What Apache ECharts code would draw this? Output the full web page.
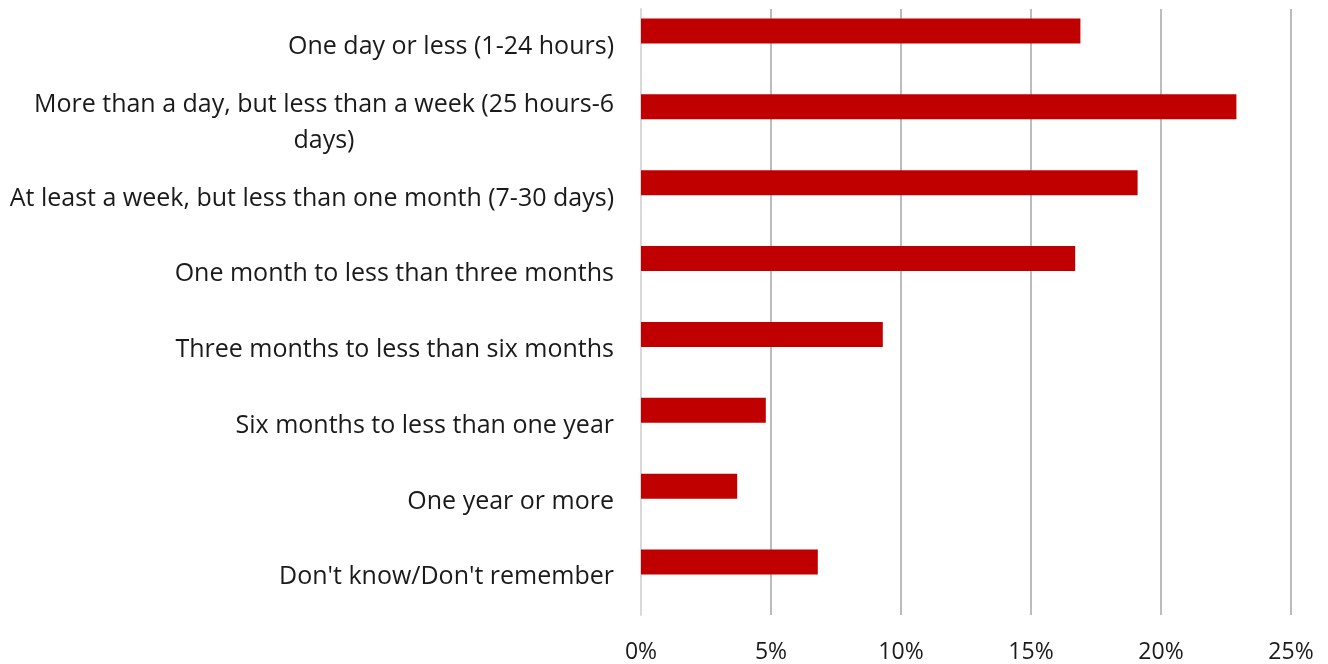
<!DOCTYPE html>
<html><head><meta charset="utf-8">
<script src="https://cdn.jsdelivr.net/npm/echarts@6/dist/echarts.min.js"></script>
<style>html,body{margin:0;padding:0;background:#fff}#c{width:1328px;height:664px}</style>
</head><body><div id="c"></div>
<script>
const categories = [
  "One day or less (1-24 hours)",
  "More than a day, but less than a week (25 hours-6\ndays)",
  "At least a week, but less than one month (7-30 days)",
  "One month to less than three months",
  "Three months to less than six months",
  "Six months to less than one year",
  "One year or more",
  "Don't know/Don't remember"
];
const values = [0.169, 0.229, 0.191, 0.167, 0.093, 0.048, 0.037, 0.068];
const tickMin = 0, tickMax = 0.25, tickStep = 0.05;

const FONT = "Open Sans";
const chart = echarts.init(document.getElementById('c'));
chart.setOption({
  animation: false,
  grid: [
    {left: 641, right: 37, top: 9, bottom: 49, outerBoundsMode: 'none', containLabel: false},
    {left: 641, right: 37, top: -7, height: 607, outerBoundsMode: 'none', containLabel: false}
  ],
  xAxis: [
    {type: 'value', gridIndex: 0, min: tickMin, max: tickMax, interval: tickStep,
     axisLine: {show: false}, axisTick: {show: false},
     splitLine: {show: true, lineStyle: {color: '#a6a6a6', width: 1.5}},
     axisLabel: {formatter: v => Math.round(v * 100) + '%', fontFamily: FONT, fontSize: 23, color: '#1a1a1a', margin: 26}},
    {type: 'value', gridIndex: 1, min: tickMin, max: tickMax, interval: tickStep, show: false}
  ],
  yAxis: [
    {type: 'category', gridIndex: 0, data: categories, inverse: true,
     axisLine: {show: true, lineStyle: {color: '#d9d9d9', width: 2}}, axisTick: {show: false},
     axisLabel: {fontFamily: FONT, fontSize: 25, color: '#1a1a1a', margin: 27,
       formatter: function (v) {
         if (v.indexOf('\n') >= 0) {
           return v.split('\n').map(s => '{c|' + s + '}').join('\n');
         }
         return v;
       },
       rich: {c: {align: 'center', fontFamily: FONT, fontSize: 25, color: '#1a1a1a', lineHeight: 36}}}},
    {type: 'category', gridIndex: 1, data: categories, inverse: true, show: false}
  ],
  series: [{
    type: 'bar', xAxisIndex: 1, yAxisIndex: 1, data: values, barWidth: 25,
    itemStyle: {color: '#c00000'}
  }]
});
</script></body></html>
